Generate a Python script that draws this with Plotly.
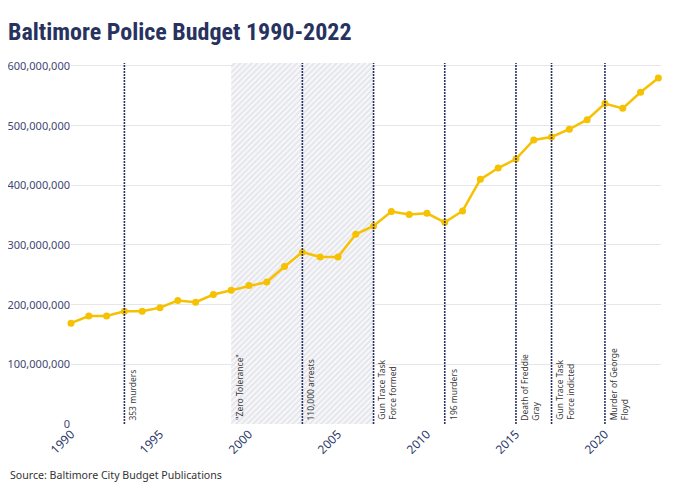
import plotly.graph_objects as go

years = list(range(1990, 2024))
budget = [169, 181, 181, 189, 189, 195, 207, 204, 217, 224,
          232, 238, 264, 288, 280, 280, 318, 332, 356, 351,
          353, 338, 357, 410, 429, 444, 476, 481, 494, 510,
          537, 529, 556, 580]
budget = [v * 1_000_000 for v in budget]

event_years = [1993, 2003, 2007, 2011, 2015, 2017, 2020]
event_labels = ["353 murders", "110,000 arrests", "Gun Trace Task<br>Force formed",
                "196 murders", "Death of Freddie<br>Gray", "Gun Trace Task<br>Force indicted",
                "Murder of George<br>Floyd"]
shade_start, shade_end = 1999, 2007
shade_label = "\"Zero Tolerance\""

y_top = 605_000_000
ytick_vals = [0, 100_000_000, 200_000_000, 300_000_000, 400_000_000, 500_000_000, 600_000_000]
xtick_vals = [1990, 1995, 2000, 2005, 2010, 2015, 2020]

fig = go.Figure()

# shaded hatched period
fig.add_trace(go.Scatter(
    x=[shade_start, shade_end, shade_end, shade_start, shade_start],
    y=[0, 0, y_top, y_top, 0],
    fill="toself", mode="lines", line=dict(width=0),
    fillcolor="#f6f6f8",
    fillpattern=dict(shape="/", fgcolor="#cdd0db", bgcolor="#f7f7f9", size=4, solidity=0.4),
    hoverinfo="skip", showlegend=False))

fig.add_trace(go.Scatter(
    x=years, y=budget, mode="lines+markers", cliponaxis=False,
    line=dict(color="#f5c100", width=2.5),
    marker=dict(color="#f5c100", size=7),
    showlegend=False))

for yr in event_years:
    fig.add_shape(type="line", x0=yr, x1=yr, y0=0, y1=y_top, xref="x", yref="y",
                  line=dict(color="#2b3266", width=1.6, dash="2px,1px"), layer="above")

ann_font = dict(family="Noto Sans", size=8.5, color="#3a3a3a")
for yr, lab in zip(event_years + [shade_start], event_labels + [shade_label]):
    fig.add_annotation(x=yr, y=3_000_000, xref="x", yref="y", text=lab, showarrow=False,
                       textangle=-90, xanchor="left", yanchor="bottom", align="left",
                       xshift=1, font=ann_font)

fig.add_annotation(x=0, y=0, xref="paper", yref="paper", xshift=-63, yshift=-60,
                   text="Source: Baltimore City Budget Publications", showarrow=False,
                   xanchor="left", yanchor="bottom",
                   font=dict(family="Noto Sans", size=10.6, color="#333333"))

fig.update_layout(
    width=672, height=484,
    margin=dict(l=63, r=19, t=55, b=68),
    paper_bgcolor="white", plot_bgcolor="white",
    title=dict(text="<b>Baltimore Police Budget 1990-2022</b>", x=0, xanchor="left",
               y=0.952, yanchor="middle", pad=dict(l=0, r=0, t=0, b=0),
               font=dict(family="Roboto Condensed, Liberation Sans Narrow, DejaVu Sans Condensed, Roboto",
                         size=24, color="#27325f")),
    xaxis=dict(range=[1990, 2023.15], tickvals=xtick_vals, ticktext=[str(v) for v in xtick_vals],
               tickangle=-45, showgrid=False, zeroline=False, showline=False, automargin=False,
               tickfont=dict(family="Noto Sans", size=12, color="#2d3a6b")),
    yaxis=dict(range=[0, y_top], tickvals=ytick_vals, tickformat=",d", automargin=False,
               showgrid=True, gridcolor="#e6e6e9", gridwidth=1, zeroline=False,
               tickfont=dict(family="Noto Sans", size=11, color="#3f4872")),
    showlegend=False,
)

fig.write_html("out.html")
